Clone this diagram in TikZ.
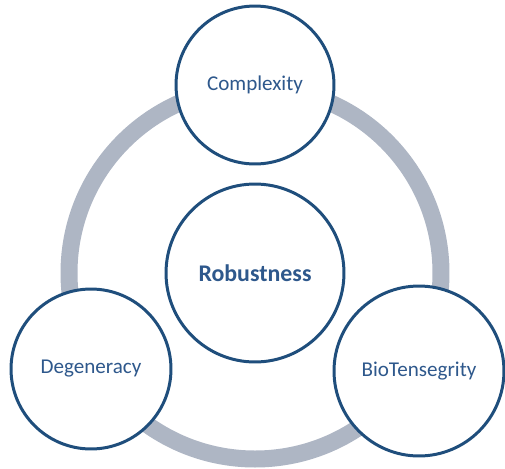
\documentclass[tikz,border=0pt]{standalone}
\usepackage{fontspec}
\setmainfont{Carlito}
\usepackage{xcolor}
\definecolor{ringgray}{RGB}{174,182,196}
\definecolor{rimblue}{RGB}{31,78,124}
\definecolor{labelblue}{RGB}{46,88,140}
\tikzset{
	bubble/.style={circle,draw=rimblue,line width=1.7pt,fill=white,text=labelblue,font=\fontsize{12}{14}\selectfont,inner sep=0pt},
	core/.style={bubble,font=\fontsize{13.6}{16}\selectfont\bfseries}
}

\begin{document}
\begin{tikzpicture}[x=0.02cm,y=-0.02cm]
		\useasboundingbox (0,0) rectangle (505,468);
		\draw[ringgray,line width=0.34cm] (255,273) circle (186);
		\node[core,minimum size=3.56cm] (robust) at (255,273) {Robustness};
		\node[bubble,minimum size=3.16cm] (complex) at (255,85) {Complexity};
		\node[bubble,minimum size=3.20cm] (degen) at (91,369) {Degeneracy};
		\node[bubble,minimum size=3.40cm] (biotens) at (419,371) {BioTensegrity};
		\end{tikzpicture}
\end{document}
